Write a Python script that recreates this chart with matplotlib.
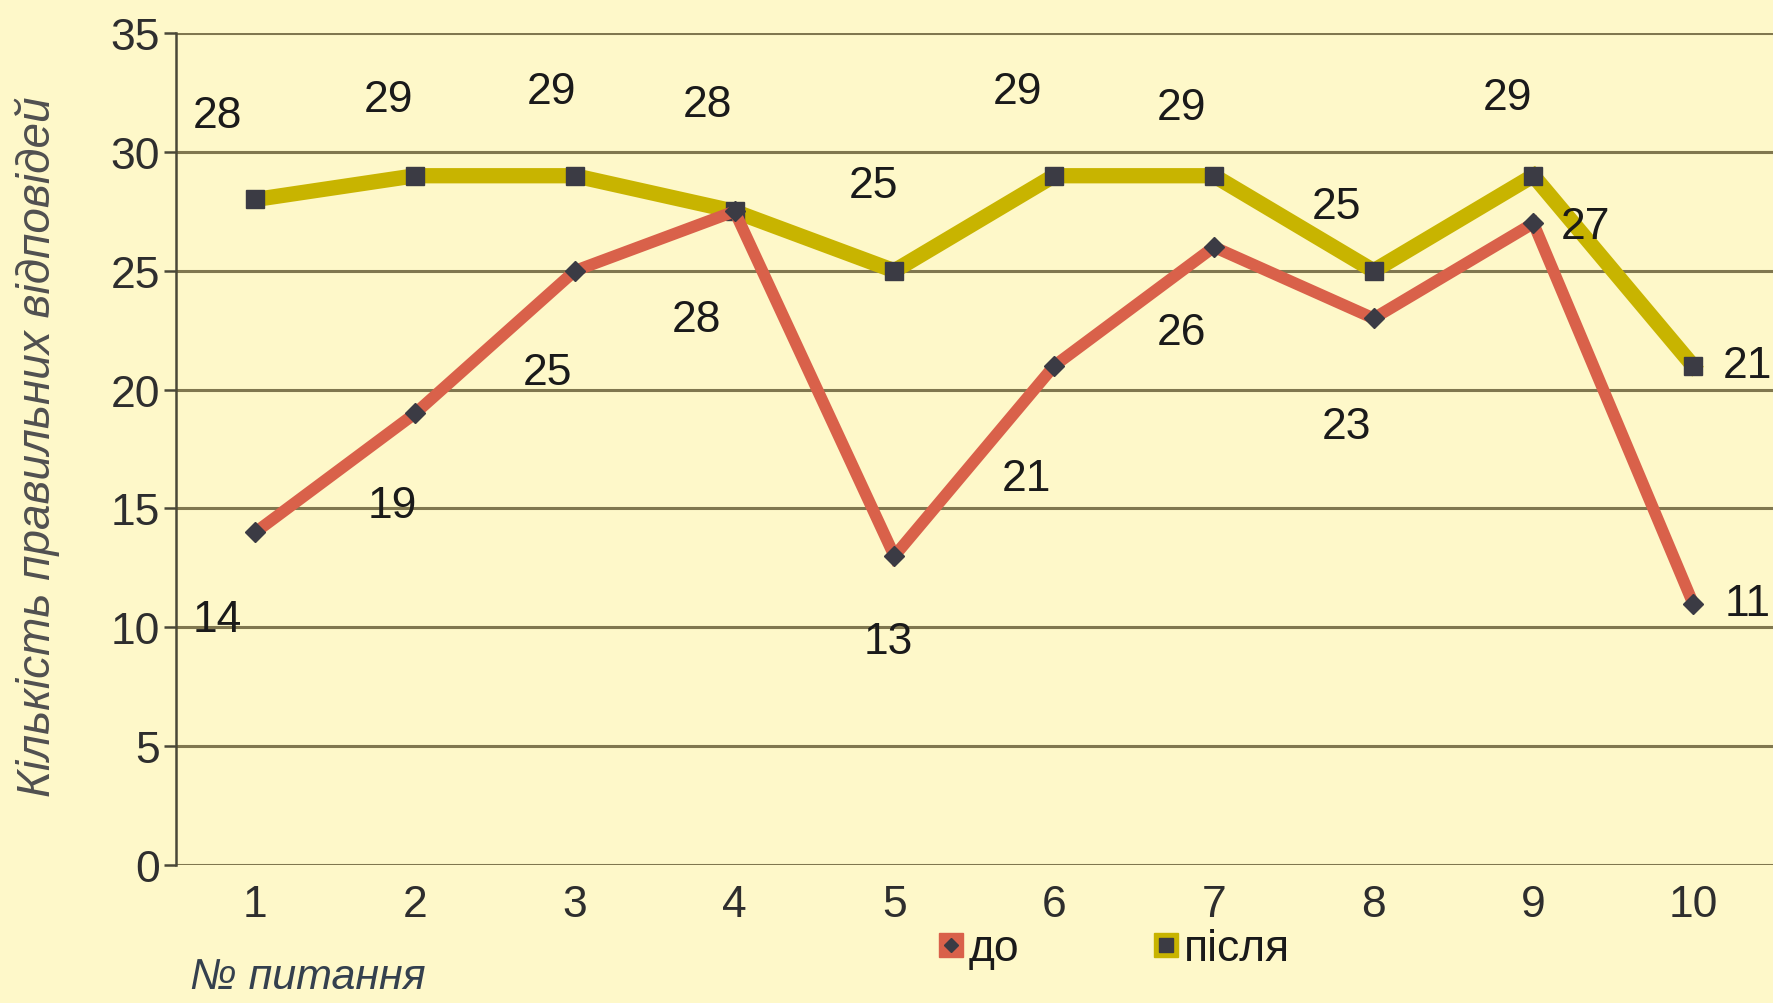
import matplotlib

matplotlib.use('Agg')
import matplotlib.pyplot as plt
from matplotlib.lines import Line2D

plt.rcParams['font.family'] = ['Liberation Sans', 'DejaVu Sans']

questions = [1, 2, 3, 4, 5, 6, 7, 8, 9, 10]
before = [14, 19, 25, 27.5, 13, 21, 26, 23, 27, 11]
after = [28, 29, 29, 27.5, 25, 29, 29, 25, 29, 21]
series_names = ['до', 'після']
y_ticks = [0, 5, 10, 15, 20, 25, 30, 35]

# зсуви підписів значень (пікселі) для кожної точки
before_off = [(-38, -87), (-23, -92), (-27, -102), (-38, -108), (-6, -86),
              (-28, -113), (-32, -85), (-27, -108), (52, -3), (54, 0)]
after_off = [(-38, 84), (-27, 76), (-23, 84), (-27, 107), (-21, 85),
             (-37, 84), (-32, 68), (-37, 64), (-26, 78), (54, 0)]

BG = '#fef8c9'
RED = '#d9614a'
YEL = '#c8b400'
MARK = '#3b3b44'
GRID = '#80774f'

fig = plt.figure(figsize=(17.73, 10.04), dpi=100, facecolor=BG)
ax = fig.add_axes([0.099, 0.1375, 0.901, 0.8285], facecolor=BG)

ax.plot(questions, after, color=YEL, lw=11, solid_joinstyle='miter', zorder=3,
        marker='s', ms=13, mfc=MARK, mec=MARK)
ax.plot(questions, before, color=RED, lw=8.5, solid_joinstyle='miter', zorder=4,
        marker='D', ms=10, mfc=MARK, mec=MARK)

for x, y, off in zip(questions, before, before_off):
    ax.annotate(f'{y:.0f}', (x, y), xytext=off, textcoords='offset pixels',
                ha='center', va='center', fontsize=32, color='#1a1a1a', zorder=5)
for x, y, off in zip(questions, after, after_off):
    ax.annotate(f'{y:.0f}', (x, y), xytext=off, textcoords='offset pixels',
                ha='center', va='center', fontsize=32, color='#1a1a1a', zorder=5)

ax.set_xlim(0.5, 10.5)
ax.set_ylim(0, 35)
ax.set_yticks(y_ticks)
ax.set_xticks(questions)
ax.yaxis.grid(True, color=GRID, lw=2.2)
ax.set_axisbelow(True)
for s in ['top', 'right', 'bottom']:
    ax.spines[s].set_visible(False)
ax.spines['left'].set_color('#4a4838')
ax.spines['left'].set_linewidth(1.8)
ax.tick_params(axis='y', length=9, width=1.8, color='#4a4838', pad=2,
               labelsize=32, labelcolor='#2e2e2e')
ax.tick_params(axis='x', length=0, pad=14, labelsize=32, labelcolor='#2e2e2e')

fig.text(0.021, 0.555, 'Кількість правильних відповідей', rotation=90,
         ha='center', va='center', fontsize=33, style='italic', color='#505050')
fig.text(0.107, 0.006, '№ питання', ha='left', va='bottom', fontsize=31,
         style='italic', color='#34404e')

h_before = (Line2D([], [], ls='none', marker='s', ms=17, mfc=RED, mec=RED),
            Line2D([], [], ls='none', marker='D', ms=7, mfc=MARK, mec=MARK))
h_after = (Line2D([], [], ls='none', marker='s', ms=17, mfc=YEL, mec=YEL),
           Line2D([], [], ls='none', marker='s', ms=10, mfc=MARK, mec=MARK))
fig.legend([h_before, h_after], series_names, loc='center',
           bbox_to_anchor=(0.628, 0.054), ncol=2, frameon=False, fontsize=32,
           handlelength=0.6, handletextpad=0.1, columnspacing=3.0,
           labelcolor='#1a1a1a')

fig.savefig('out.png', dpi=100, facecolor=BG)
